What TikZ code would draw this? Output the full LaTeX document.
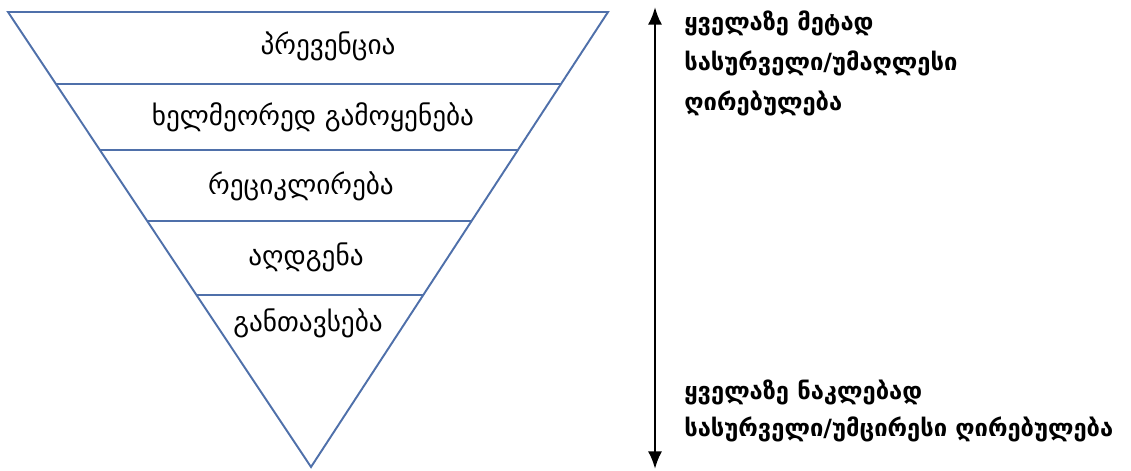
\documentclass[tikz,border=0pt]{standalone}
\usepackage{fontspec}
\usepackage{xcolor}
\usetikzlibrary{calc,arrows.meta}
\setmainfont{DejaVu Sans}
\newfontfamily\geofont{DejaVu Sans}
\definecolor{layerblue}{RGB}{79,112,170}

\begin{document}
\begin{tikzpicture}[x=0.02cm, y=-0.02cm,
  layer/.style={font=\geofont\fontsize{15.5}{17}\selectfont, inner sep=0pt},
  note/.style={anchor=north west, align=left, inner sep=0pt, font=\geofont\bfseries\fontsize{13.5}{22.5}\selectfont}]
\useasboundingbox (0,0) rectangle (1131,470);
\coordinate (tl) at (8,12); \coordinate (tr) at (608,12); \coordinate (apex) at (311,467);
\draw[layerblue, line width=1.1pt, line join=miter] (tl) -- (tr) -- (apex) -- cycle;
\foreach \y in {84,150,221,295}
  \draw[layerblue, line width=1.1pt] ($(tl)!{(\y-12)/455}!(apex)$) -- ($(tr)!{(\y-12)/455}!(apex)$);
\node[layer] (prev) at (328,46)  {პრევენცია};
\node[layer] (reuse) at (313,117) {ხელმეორედ გამოყენება};
\node[layer] (recy) at (301,186) {რეციკლირება};
\node[layer] (reco) at (306,257) {აღდგენა};
\node[layer] (disp) at (308,323) {განთავსება};
% value arrow
\coordinate (hi) at (655,7); \coordinate (lo) at (655,469);
\draw[{Latex[length=10pt,width=8pt]}-{Latex[length=10pt,width=8pt]}, line width=1.4pt] (hi) -- (lo);
\node[note] (best) at (684,11) {ყველაზე მეტად\\სასურველი/უმაღლესი\\ღირებულება};
\node[note, font=\geofont\bfseries\fontsize{13.5}{21}\selectfont] (worst) at (684,380) {ყველაზე ნაკლებად\\სასურველი/უმცირესი ღირებულება};
\end{tikzpicture}
\end{document}
